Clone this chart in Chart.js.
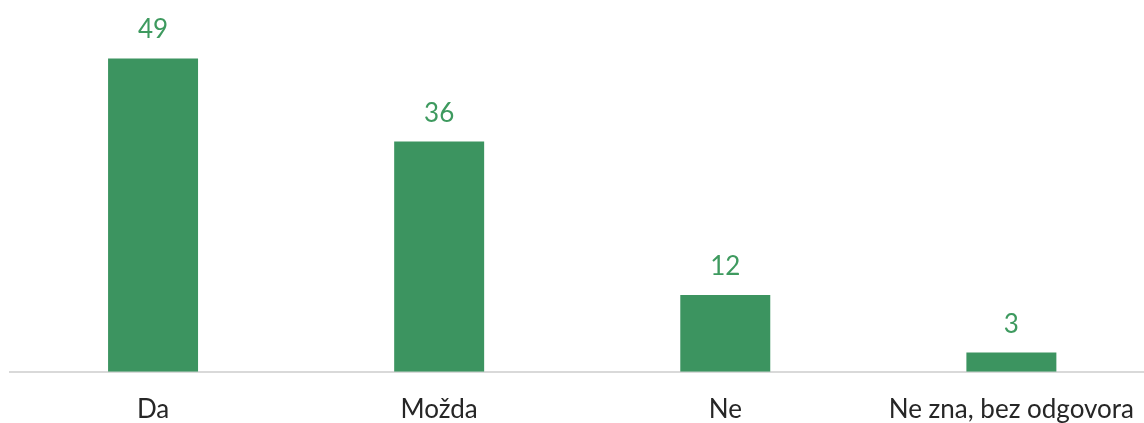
<!DOCTYPE html>
<html>
<head>
<meta charset="utf-8">
<script src="https://cdn.jsdelivr.net/npm/chart.js@4.4.1/dist/chart.umd.min.js"></script>
<style>
html,body{margin:0;padding:0;background:#fff;overflow:hidden;width:1144px;height:423px;}
#wrap{width:1156px;height:447px;position:relative;}
</style>
</head>
<body>
<div id="wrap"><canvas id="c" width="1156" height="447"></canvas></div>
<script>
const categories = ["Da", "Možda", "Ne", "Ne zna, bez odgovora"];
const values = [49, 36, 12, 3];

const barColor = "#3C9460";
const valueColor = "#3E9A5F";

const valueLabels = {
  id: "valueLabels",
  afterDatasetsDraw(chart) {
    const ctx = chart.ctx;
    const meta = chart.getDatasetMeta(0);
    ctx.save();
    ctx.fillStyle = valueColor;
    ctx.font = "26px Lato, 'Open Sans', sans-serif";
    ctx.textAlign = "center";
    ctx.textBaseline = "alphabetic";
    meta.data.forEach((bar, i) => {
      ctx.fillText(String(values[i]), bar.x, bar.y - 20);
    });
    ctx.restore();
  }
};

new Chart(document.getElementById("c"), {
  type: "bar",
  data: {
    labels: categories,
    datasets: [{
      data: values,
      backgroundColor: barColor,
      borderWidth: 0,
      categoryPercentage: 1,
      barPercentage: 0.3145
    }]
  },
  options: {
    responsive: false,
    animation: false,
    layout: { padding: { left: 10, right: 0, top: 52, bottom: 0 } },
    plugins: { legend: { display: false }, tooltip: { enabled: false } },
    scales: {
      x: {
        grid: { display: false, drawTicks: false },
        border: { color: "#D9D9D9", width: 2 },
        ticks: {
          color: "#262626",
          font: { family: "Lato, 'Open Sans', sans-serif", size: 26 },
          padding: 22,
          maxRotation: 0,
          autoSkip: false
        }
      },
      y: {
        display: false,
        min: 0,
        max: 50
      }
    }
  },
  plugins: [valueLabels]
});
</script>
</body>
</html>
